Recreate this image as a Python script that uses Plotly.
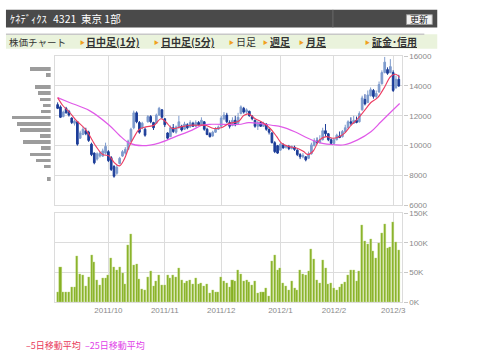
import plotly.graph_objects as go

# ---------------- data ----------------
month_labels = ["2011/10", "2011/11", "2011/12", "2012/1", "2012/2", "2012/3"]
month_start_idx = [18, 38, 58, 79, 98, 119]

opens = [12750, 12600, 11950, 12500, 12300, 11850, 11500, 11600, 10500, 10750,
         11000, 10900, 10100, 9500, 9100, 9300, 9300, 9500, 9600, 9200,
         8600, 8150, 8800, 9300, 9500, 9750, 10300, 11200, 12200, 11550,
         11200, 11100, 11600, 11950, 11550, 11500, 12050, 12400, 11800, 10850,
         10600, 11200, 10900, 11200, 11300, 11100, 11400, 11250, 11500, 11300,
         11550, 11400, 11600, 11100, 10800, 10650, 10900, 11100, 11300, 11800,
         12050, 11550, 11350, 11700, 11500, 12150, 12500, 12250, 12300, 11950,
         11700, 11300, 11550, 11300, 11450, 11100, 10850, 10200, 10000, 9700,
         10050, 9900, 9950, 9800, 9900, 9700, 9400, 9250, 9250, 9150,
         9450, 10000, 10300, 10200, 10400, 11000, 10800, 10400, 10150, 10400,
         10650, 10600, 10950, 11200, 11600, 11500, 11700, 11600, 12400, 13100,
         12900, 13350, 13700, 13300, 13600, 14150, 14900, 15100, 14900, 14900,
         13900, 14450]
highs = [12900, 12700, 12350, 12600, 12400, 11900, 11750, 11650, 11000, 11250,
         11200, 11000, 10200, 9550, 9550, 9600, 9800, 10200, 9700, 9300,
         8700, 8700, 9250, 9700, 9900, 10400, 11200, 12350, 12300, 11650,
         11600, 11200, 12050, 12050, 11600, 12150, 12600, 12450, 11850, 10900,
         11350, 11450, 11350, 12000, 11400, 11600, 11500, 11700, 11600, 11700,
         11650, 11900, 11650, 11200, 10900, 11000, 11250, 11350, 12000, 12250,
         12200, 11700, 11900, 12000, 12200, 12700, 12600, 12500, 12350, 12050,
         11750, 11650, 11650, 11600, 11500, 11150, 10900, 10300, 10050, 10200,
         10150, 10050, 10050, 10000, 10000, 9750, 9500, 9500, 9300, 9600,
         10200, 10500, 10550, 10700, 11200, 11450, 10850, 10500, 10500, 10800,
         10950, 11050, 11400, 11700, 11900, 12000, 11950, 12300, 13350, 13450,
         13700, 13900, 13800, 13700, 14300, 15050, 15950, 15250, 15800, 15050,
         14700, 14750]
lows = [12450, 11850, 11900, 12150, 11950, 11450, 11350, 10000, 10450, 10700,
        10700, 10250, 9300, 8750, 9000, 9200, 9250, 9400, 8900, 8300,
        7850, 8050, 8750, 9250, 9400, 9700, 10250, 11100, 11500, 10800,
        11100, 10600, 11550, 11500, 11050, 11450, 12000, 11800, 11250, 10400,
        10600, 10850, 10800, 11150, 10950, 11050, 11100, 11200, 11250, 11250,
        11350, 11350, 11000, 10700, 10550, 10600, 10850, 11050, 11250, 11700,
        11500, 11150, 11300, 11300, 11450, 12100, 12150, 12150, 11950, 11700,
        11200, 11050, 11250, 11250, 11000, 10750, 10150, 9500, 9450, 9650,
        9800, 9800, 9700, 9750, 9650, 9300, 9100, 9150, 8950, 9100,
        9400, 9950, 10100, 10150, 10350, 10600, 10300, 10050, 10050, 10350,
        10500, 10550, 10850, 11150, 11350, 11450, 11500, 11550, 12350, 12700,
        12850, 13300, 13150, 13150, 13550, 14100, 14850, 14750, 14850, 13600,
        13800, 13950]
closes = [12500, 11900, 12250, 12200, 12050, 11550, 11650, 10100, 10850, 11100,
          10800, 10350, 9400, 8850, 9450, 9500, 9650, 9950, 9000, 8400,
          7950, 8550, 9150, 9600, 9750, 10300, 11100, 12200, 11600, 10900,
          11500, 10700, 11950, 11600, 11200, 12050, 12500, 11900, 11400, 10500,
          11200, 10950, 11250, 11600, 11050, 11450, 11200, 11550, 11300, 11550,
          11400, 11700, 11100, 10750, 10600, 10900, 11100, 11250, 11850, 12050,
          11600, 11300, 11700, 11400, 11900, 12600, 12250, 12400, 12000, 11800,
          11300, 11550, 11300, 11500, 11100, 10900, 10200, 9600, 9500, 10100,
          9850, 10000, 9800, 9950, 9750, 9400, 9250, 9350, 9050, 9450,
          10050, 10350, 10200, 10400, 11000, 10800, 10400, 10150, 10400, 10700,
          10550, 10950, 11200, 11600, 11500, 11700, 11550, 12150, 13200, 12800,
          13400, 13750, 13300, 13500, 14100, 14900, 15600, 14850, 15300, 13700,
          14450, 14000]

volume_k = [17, 59, 18, 18, 17, 26, 25, 78, 48, 45,
            28, 42, 80, 67, 37, 29, 41, 41, 46, 75,
            60, 54, 59, 49, 30, 97, 114, 62, 65, 39,
            22, 21, 43, 52, 27, 36, 46, 29, 29, 45,
            41, 45, 42, 57, 37, 32, 35, 37, 30, 40,
            30, 33, 27, 30, 15, 20, 17, 18, 42, 35,
            33, 26, 38, 36, 54, 47, 35, 37, 34, 29,
            35, 16, 18, 17, 24, 11, 70, 80, 54, 58,
            33, 28, 21, 35, 24, 21, 55, 47, 45, 52,
            90, 73, 38, 32, 71, 57, 31, 33, 24, 20,
            26, 30, 34, 46, 54, 54, 36, 52, 129, 103,
            98, 106, 86, 74, 100, 116, 132, 91, 92, 135,
            101, 88]

ma5_idx = [0, 1.9, 4.2, 6.6, 10.1, 13.6, 16, 18.3, 20.1, 21.9, 23.6, 25.4, 27.2,
           28.9, 31.3, 34.2, 36.6, 38.4, 40.7, 43.7, 47.2, 50.1, 52.4, 55.4, 58.3,
           60.7, 64.2, 66, 67.7, 70.1, 72.4, 75.4, 77.7, 79.4, 81.8, 84.7, 87.1,
           88.8, 90.6, 92.9, 95.3, 97.6, 99.4, 101.7, 104.1, 106.4, 108.8, 111.1,
           113.5, 115.8, 118.1, 119.9, 121.3]
ma5_val = [13220, 12676, 12240, 11695, 11042, 9952, 9408, 9300, 8863, 8645, 9080,
           9952, 10606, 11085, 11260, 11368, 11804, 11586, 11150, 11260, 11368,
           11368, 11368, 11150, 11216, 11478, 11640, 12022, 12130, 11804, 11586,
           11150, 10606, 10170, 9952, 9843, 9625, 9408, 9625, 10388, 10606, 10497,
           10562, 10824, 11368, 11804, 12349, 12894, 13220, 13874, 14637, 14790,
           14572]

ma25_idx = [0, 4.2, 11.3, 18.3, 21.8, 25.4, 30.1, 35.9, 41.8, 47.7, 51.2, 54.8,
            64.2, 67.7, 71.2, 75.9, 79.4, 84.1, 88.8, 93.5, 98.2, 101.7, 106.4,
            111.1, 114.6, 118.1, 121.3]
ma25_val = [13220, 12894, 12349, 11368, 10715, 10170, 9996, 10170, 10606, 11042,
            11368, 11434, 11420, 11540, 11500, 11368, 11260, 10933, 10497, 10170,
            10061, 10061, 10388, 10933, 11586, 12240, 12828]

profile_price = [15144, 14734, 13914, 13504, 13094, 12684, 12274, 11864, 11454,
                 11044, 10634, 10224, 9814, 9404, 8994, 8584, 7764]
profile_vol = [21, 5, 16, 13.3, 11, 8.3, 10.3, 39, 33.7, 31, 11, 27.7, 10, 21, 15,
               6.7, 3.3]

price_ticks = [6000, 8000, 10000, 12000, 14000, 16000]
price_tick_labels = ["6000", "8000", "10000", "12000", "14000", "16000"]
vol_ticks = [0, 50000, 100000, 150000]
vol_tick_labels = ["0K", "50K", "100K", "150K"]

# ---------------- figure ----------------
W, H = 480, 359
def px(x):
    return x / W
def py(y):
    return 1 - y / H

idx = list(range(len(closes)))
volume = [v * 1000 for v in volume_k]

fig = go.Figure()
fig.add_trace(go.Candlestick(
    x=idx, open=opens, high=highs, low=lows, close=closes,
    increasing=dict(line=dict(color="#7e9bcd", width=1), fillcolor="#7e9bcd"),
    decreasing=dict(line=dict(color="#1b3c98", width=1), fillcolor="#1b3c98"),
    whiskerwidth=0, xaxis="x", yaxis="y", hoverinfo="skip"))
fig.add_trace(go.Scatter(x=ma25_idx, y=ma25_val, mode="lines",
                         line=dict(color="#e05ae8", width=1.2, shape="spline"),
                         xaxis="x", yaxis="y"))
fig.add_trace(go.Scatter(x=ma5_idx, y=ma5_val, mode="lines",
                         line=dict(color="#ec3d62", width=1.1, shape="spline"),
                         xaxis="x", yaxis="y"))
fig.add_trace(go.Bar(x=idx, y=volume, width=0.72, marker=dict(color="#86b023",
                     line=dict(color="#c5dc8a", width=0.4)),
                     xaxis="x2", yaxis="y2"))
fig.add_trace(go.Bar(x=profile_vol, y=profile_price, orientation="h", width=240,
                     marker=dict(color="#9c9c9c", line=dict(width=0)),
                     xaxis="x3", yaxis="y3"))

grid = "#dcdcdc"
tickfont = dict(family="Liberation Sans, Arial, sans-serif", size=8, color="#8a8a8a")
xr = [-0.95, 122.3]
xdom = [px(55.3), px(405)]

fig.update_layout(
    width=W, height=H, margin=dict(l=0, r=0, t=0, b=0),
    paper_bgcolor="white", plot_bgcolor="white", showlegend=False,
    bargap=0, boxgap=0.15,
    xaxis=dict(domain=xdom, anchor="y", range=xr, tickvals=month_start_idx,
               showticklabels=False, showgrid=True, gridcolor=grid, gridwidth=1.3,
               showline=True, mirror=True, linecolor=grid, linewidth=1.3,
               zeroline=False, ticks="", rangeslider=dict(visible=False)),
    yaxis=dict(domain=[py(206.5), py(53.5)], anchor="x", range=[6000, 16000],
               tickvals=price_ticks, ticktext=price_tick_labels, side="right",
               showgrid=True, gridcolor=grid,
               gridwidth=1.3, showline=True, mirror=True, linecolor=grid, linewidth=1.3,
               ticks="outside", ticklen=4, tickcolor="#c8c8c8", tickfont=tickfont,
               zeroline=False),
    xaxis2=dict(domain=xdom, anchor="y2", range=xr, tickvals=month_start_idx,
                ticktext=month_labels, showgrid=True, gridcolor=grid, gridwidth=1.3,
                showline=True, mirror=True, linecolor=grid, linewidth=1.3,
                zeroline=False, ticks="", tickfont=tickfont),
    yaxis2=dict(domain=[py(306), py(214.5)], anchor="x2", range=[0, 150000],
                tickvals=vol_ticks, ticktext=vol_tick_labels, side="right",
                showgrid=True, gridcolor=grid, gridwidth=1.3, showline=True,
                mirror=True, linecolor=grid, linewidth=1.3, ticks="outside",
                ticklen=4, tickcolor="#c8c8c8", tickfont=tickfont, zeroline=False),
    xaxis3=dict(domain=[px(11), px(51)], anchor="y3", range=[40, 0], visible=False),
    yaxis3=dict(domain=[py(206.5), py(53.5)], anchor="x3", range=[6000, 16000],
                visible=False),
)

# ---------- header bars ----------
shapes = [
    dict(type="rect", xref="paper", yref="paper", x0=px(6), x1=px(440), y0=py(24),
         y1=py(6), fillcolor="#4a4a4a", line=dict(width=0), layer="below"),
    dict(type="line", xref="paper", yref="paper", x0=px(335), x1=px(335), y0=py(24),
         y1=py(6), line=dict(color="#6a6a6a", width=1)),
    dict(type="rect", xref="paper", yref="paper", x0=px(409), x1=px(435), y0=py(21),
         y1=py(11), fillcolor="#f2f2f2", line=dict(color="#9a9a9a", width=1)),
    dict(type="rect", xref="paper", yref="paper", x0=px(6), x1=px(440), y0=py(46),
         y1=py(31), fillcolor="#eaf3dc", line=dict(width=0), layer="below"),
    dict(type="line", xref="paper", yref="paper", x0=px(6), x1=px(427), y0=py(31),
         y1=py(31), line=dict(color="#c8c8c8", width=1.5)),
]
fig.update_layout(shapes=shapes)

jp = "Noto Sans CJK JP"
anns = []
def text(x, y, s, size=10, color="#222", xanchor="left"):
    anns.append(dict(xref="paper", yref="paper", x=px(x), y=py(y), text=s,
                     showarrow=False, xanchor=xanchor, yanchor="middle",
                     font=dict(family=jp, size=size, color=color)))

text(8, 15, "ｹﾈﾃﾞｨｸｽ", 10.5, "white")
text(51, 15, "4321", 10.5, "white")
text(79, 15, "東京 1部", 10.5, "white")
text(422, 16, "更新", 9, "#222", "center")
text(7, 38.5, "株価チャート", 9.5, "#333")
nav = [(78, "<b><u>日中足(1分)</u></b>"), (153, "<b><u>日中足(5分)</u></b>"),
       (228, "日足"), (263, "<b><u>週足</u></b>"), (299, "<b><u>月足</u></b>"),
       (365, "<b><u>証金･信用</u></b>")]
for x, s in nav:
    text(x, 38.5, "▶", 5, "#f0a020")
    text(x + 7, 38.5, s, 10, "#333")

text(24, 350, "–5日移動平均", 9, "#e8385a")
text(84, 350, "–25日移動平均", 9, "#e040e8")
fig.update_layout(annotations=anns)

fig.write_html("out.html", config={"displayModeBar": False},
               post_script="document.body.style.margin='0';"
                           "document.body.style.overflow='hidden';")
